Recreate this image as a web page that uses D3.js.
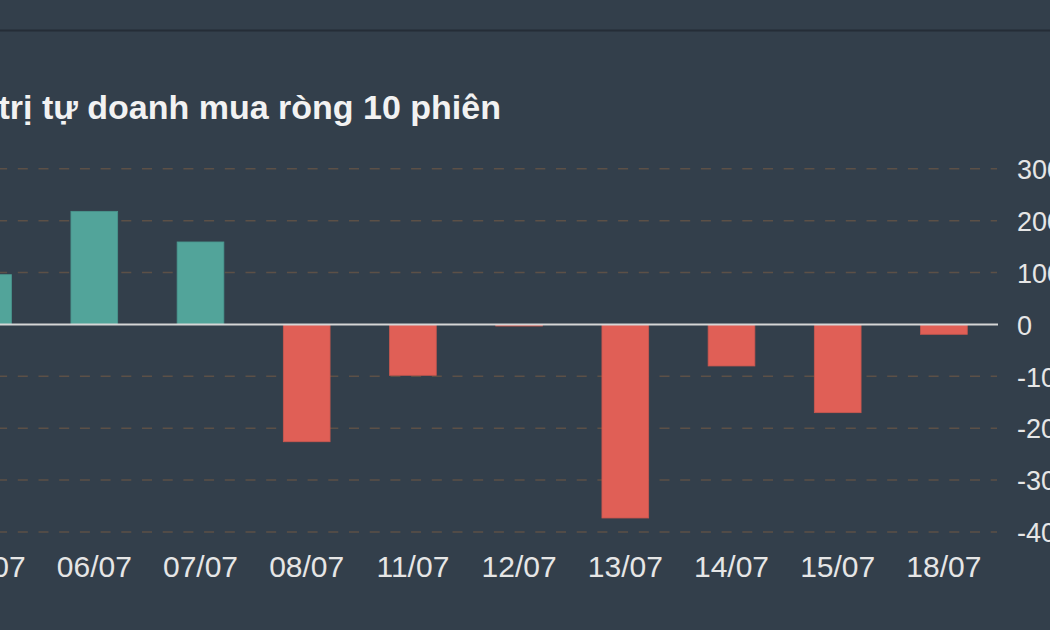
<!DOCTYPE html>
<html>
<head>
<meta charset="utf-8">
<script src="https://cdn.jsdelivr.net/npm/d3@7"></script>
<style>
  html, body { margin: 0; padding: 0; background: #333f4b; overflow: hidden; }
  svg { display: block; }
</style>
</head>
<body>
<div id="chart"></div>
<script>
const title = "Giá trị tự doanh mua ròng 10 phiên";
const sessions = ["05/07", "06/07", "07/07", "08/07", "11/07", "12/07", "13/07", "14/07", "15/07", "18/07"];
const netValues = [96, 218, 159, -226, -98, -3, -373, -80, -170, -19];
const yTicks = [300, 200, 100, 0, -100, -200, -300, -400];

const width = 1050;
const height = 630;
const font = "Helvetica, Arial, 'Liberation Sans', sans-serif";

const svg = d3
  .select("#chart")
  .append("svg")
  .attr("width", width)
  .attr("height", height);

svg.append("rect").attr("width", width).attr("height", height).attr("fill", "#333f4b");

// dark separator on top
svg
  .append("line")
  .attr("x1", 0)
  .attr("x2", width)
  .attr("y1", 30.5)
  .attr("y2", 30.5)
  .attr("stroke", "#252d37")
  .attr("stroke-width", 2);

svg
  .append("text")
  .attr("x", 501)
  .attr("y", 119)
  .attr("text-anchor", "end")
  .attr("fill", "#f2f2f2")
  .style("font-family", font)
  .style("font-weight", "bold")
  .style("font-size", "34px")
  .text(title);

const x = d3
  .scaleBand()
  .domain(sessions)
  .range([-65, 997])
  .paddingInner(0.56)
  .paddingOuter(0.28);

const y = d3.scaleLinear().domain([-400, 300]).range([532, 168.8]);

// dashed grid lines
svg
  .append("g")
  .selectAll("line")
  .data(yTicks.filter((d) => d !== 0))
  .join("line")
  .attr("x1", -65)
  .attr("x2", 997)
  .attr("y1", (d) => y(d))
  .attr("y2", (d) => y(d))
  .attr("stroke", "#5c5047")
  .attr("stroke-width", 1.5)
  .attr("stroke-dasharray", "10,10.7");

// bars
svg
  .append("g")
  .selectAll("rect")
  .data(netValues)
  .join("rect")
  .attr("x", (d, i) => x(sessions[i]))
  .attr("width", x.bandwidth())
  .attr("y", (d) => y(Math.max(0, d)))
  .attr("height", (d) => Math.abs(y(d) - y(0)))
  .attr("fill", (d) => (d >= 0 ? "#52a49a" : "#e05f56"))
  .attr("stroke", (d) => (d >= 0 ? "#4a968d" : "#c9574f"))
  .attr("stroke-width", 0.8);

// zero line
svg
  .append("line")
  .attr("x1", -65)
  .attr("x2", 998)
  .attr("y1", y(0))
  .attr("y2", y(0))
  .attr("stroke", "#d6d6d6")
  .attr("stroke-width", 2);

// right axis
const yAxis = svg
  .append("g")
  .attr("transform", "translate(1012,0)")
  .call(
    d3
      .axisRight(y)
      .tickValues(yTicks)
      .tickSize(0)
      .tickPadding(5)
      .tickFormat((d) => String(d))
  );
yAxis.select(".domain").remove();
yAxis
  .selectAll("text")
  .attr("fill", "#e6e6e6")
  .attr("dy", "0.36em")
  .style("font-family", font)
  .style("font-size", "27px");

// bottom axis
const xAxis = svg
  .append("g")
  .attr("transform", "translate(0,544)")
  .call(d3.axisBottom(x).tickSize(0).tickPadding(0));
xAxis.select(".domain").remove();
xAxis
  .selectAll("text")
  .attr("fill", "#e6e6e6")
  .attr("dy", "1.1em")
  .style("font-family", font)
  .style("font-size", "30px");
</script>
</body>
</html>
